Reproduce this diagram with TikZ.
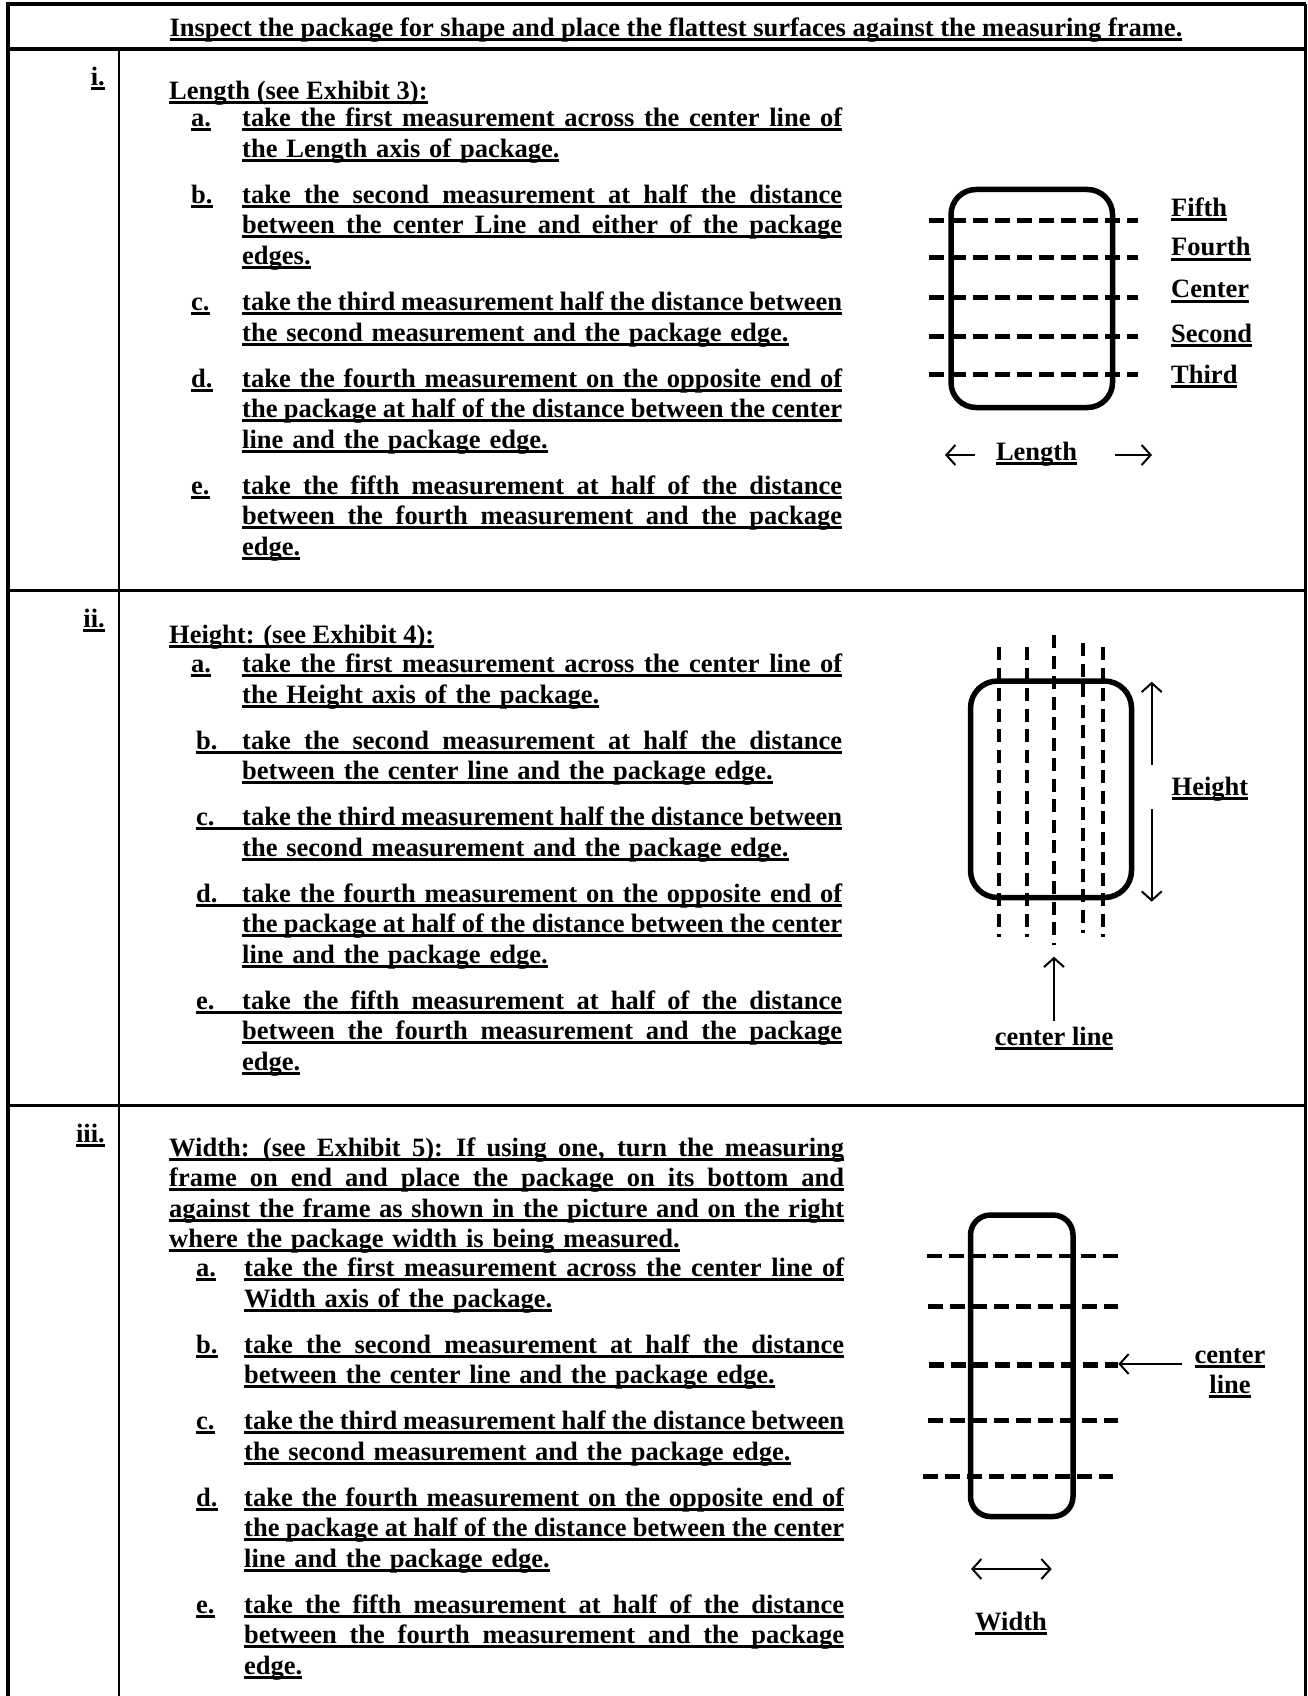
\documentclass[tikz,border=0pt]{standalone}
\usepackage{fontspec}
\setmainfont{Liberation Serif}
\usetikzlibrary{arrows.meta}
% underlined box and one justified underlined line
\newcommand{\ulbox}[1]{\leavevmode\setbox0=\hbox{#1}\rlap{\rule[-4.5pt]{\wd0}{3pt}}\box0}
\newcommand{\fullline}[2][600pt]{\ulbox{\spaceskip=\fontdimen2\font plus 1fil minus 0.5\fontdimen2\font\hbox to #1{#2}}}
\begin{document}
\begin{tikzpicture}[x=1pt,y=-1pt,
    every node/.style={inner sep=0pt,font=\fontsize{26.5pt}{30.5pt}\selectfont\bfseries},
    txt/.style={anchor=base west,text width=680pt,align=left},
    lbl/.style={anchor=base west},
    num/.style={anchor=base east},
    pkg/.style={line width=5.5pt,rounded corners=25pt},
    cut/.style={line width=5pt,dash pattern=on 15pt off 7pt},
    vcut/.style={line width=4.7pt,dash pattern=on 13pt off 7.5pt},
    arr/.style={line width=2pt,-{Straight Barb[length=9pt,width=20pt]}}]
\useasboundingbox (0,0) rectangle (1307,1696);
% table
\draw[line width=4pt] (8,1696) -- (8,4) -- (1305.5,4);
\draw[line width=3pt] (1305.5,4) -- (1305.5,1696);
\draw[line width=4pt] (8,49.5) -- (1305.5,49.5);
\draw[line width=3.5pt] (8,590.5) -- (1305.5,590.5);
\draw[line width=3.5pt] (8,1105.5) -- (1305.5,1105.5);
\draw[line width=2.5pt] (119,49.5) -- (119,1696);
\node[anchor=base] (title) at (676,36.7) {\ulbox{Inspect the package for shape and place the flattest surfaces against the measuring frame.}};

% i. length
\node[num] (numi) at (105,86) {\ulbox{i.}};
\node[lbl] (headi) at (169,99.5) {\ulbox{Length (see Exhibit 3):}};
\node[lbl] (ia) at (191,127) {\ulbox{a.}};
\node[txt] (ita) at (242,127) {\fullline{take the first measurement across the center line of}\\\ulbox{the Length axis of package.}};
\node[lbl] (ib) at (191,203.5) {\ulbox{b.}};
\node[txt] (itb) at (242,203.5) {\fullline{take the second measurement at half the distance}\\\fullline{between the center Line and either of the package}\\\ulbox{edges.}};
\node[lbl] (ic) at (191,310.5) {\ulbox{c.}};
\node[txt] (itc) at (242,310.5) {\fullline{take the third measurement half the distance between}\\\ulbox{the second measurement and the package edge.}};
\node[lbl] (id) at (191,387) {\ulbox{d.}};
\node[txt] (itd) at (242,387) {\fullline{take the fourth measurement on the opposite end of}\\\fullline{the package at half of the distance between the center}\\\ulbox{line and the package edge.}};
\node[lbl] (ie) at (191,494) {\ulbox{e.}};
\node[txt] (ite) at (242,494) {\fullline{take the fifth measurement at half of the distance}\\\fullline{between the fourth measurement and the package}\\\ulbox{edge.}};

\draw[pkg] (951,189.5) rectangle (1112.5,407.5);
\foreach \y in {221,257.7,297.3,336.7,374}
    \draw[cut] (929,\y) -- (1138,\y);
\foreach \t/\y in {Fifth/216.7,Fourth/256,Center/298,Second/342,Third/383}
    \node[lbl] (\t) at (1171,\y) {\ulbox{\t}};
\node[anchor=base] (len) at (1036.5,460) {\ulbox{Length}};
\coordinate (lenl) at (975,455); \coordinate (lenlt) at (945,455);
\coordinate (lenr) at (1115,455); \coordinate (lenrt) at (1152,455);
\draw[arr] (lenl) -- (lenlt);
\draw[arr] (lenr) -- (lenrt);

% ii. height
\node[num] (numii) at (105,627) {\ulbox{ii.}};
\node[lbl] (headii) at (169,643.5) {\ulbox{Height: (see Exhibit 4):}};
\node[lbl] (iia) at (191,672.5) {\ulbox{a.}};
\node[txt] (iita) at (242,672.5) {\fullline{take the first measurement across the center line of}\\\ulbox{the Height axis of the package.}};
\node[lbl] (iib) at (196,749) {\ulbox{\makebox[46pt][l]{b.}}};
\node[txt] (iitb) at (242,749) {\fullline{take the second measurement at half the distance}\\\ulbox{between the center line and the package edge.}};
\node[lbl] (iic) at (196,825.5) {\ulbox{\makebox[46pt][l]{c.}}};
\node[txt] (iitc) at (242,825.5) {\fullline{take the third measurement half the distance between}\\\ulbox{the second measurement and the package edge.}};
\node[lbl] (iid) at (196,902) {\ulbox{\makebox[46pt][l]{d.}}};
\node[txt] (iitd) at (242,902) {\fullline{take the fourth measurement on the opposite end of}\\\fullline{the package at half of the distance between the center}\\\ulbox{line and the package edge.}};
\node[lbl] (iie) at (196,1009) {\ulbox{\makebox[46pt][l]{e.}}};
\node[txt] (iite) at (242,1009) {\fullline{take the fifth measurement at half of the distance}\\\fullline{between the fourth measurement and the package}\\\ulbox{edge.}};

\draw[pkg,rounded corners=27pt] (970.5,681) rectangle (1131.5,897.5);
\foreach \x/\a/\b in {999/647/937,1027/647/937,1054/635/945,1083/643/933,1103/647/937}
    \draw[vcut] (\x,\a) -- (\x,\b);
\coordinate (hup) at (1151.7,765); \coordinate (huptip) at (1151.7,681.7);
\coordinate (hdn) at (1151.7,809); \coordinate (hdntip) at (1151.7,901.7);
\draw[arr] (hup) -- (huptip);
\draw[arr] (hdn) -- (hdntip);
\node[anchor=base] (height) at (1210,795) {\ulbox{Height}};
\node[anchor=base] (cline) at (1054,1045) {\ulbox{center line}};
\coordinate (cltip) at (1054,956.7);
\draw[arr] ([yshift=5pt]cline.north) -- (cltip);

% iii. width
\node[num] (numiii) at (105,1142) {\ulbox{iii.}};
\node[txt] (headiii) at (169,1156) {\fullline[675pt]{Width: (see Exhibit 5): If using one, turn the measuring}\\\fullline[675pt]{frame on end and place the package on its bottom and}\\\fullline[675pt]{against the frame as shown in the picture and on the right}\\\ulbox{where the package width is being measured.}};
\node[lbl] (iiia) at (196,1276.5) {\ulbox{a.}};
\node[txt] (iiita) at (244,1276.5) {\fullline{take the first measurement across the center line of}\\\ulbox{Width axis of the package.}};
\node[lbl] (iiib) at (196,1353) {\ulbox{b.}};
\node[txt] (iiitb) at (244,1353) {\fullline{take the second measurement at half the distance}\\\ulbox{between the center line and the package edge.}};
\node[lbl] (iiic) at (196,1429.5) {\ulbox{c.}};
\node[txt] (iiitc) at (244,1429.5) {\fullline{take the third measurement half the distance between}\\\ulbox{the second measurement and the package edge.}};
\node[lbl] (iiid) at (196,1506) {\ulbox{d.}};
\node[txt] (iiitd) at (244,1506) {\fullline{take the fourth measurement on the opposite end of}\\\fullline{the package at half of the distance between the center}\\\ulbox{line and the package edge.}};
\node[lbl] (iiie) at (196,1613) {\ulbox{e.}};
\node[txt] (iiite) at (244,1613) {\fullline{take the fifth measurement at half of the distance}\\\fullline{between the fourth measurement and the package}\\\ulbox{edge.}};

\draw[pkg,rounded corners=20pt] (970.5,1215) rectangle (1073,1516.5);
\foreach \y/\a/\b in {1256/927/1118,1306.7/928/1118,1420.7/928/1118,1476.7/923/1113}
    \draw[cut,line width=4.7pt] (\a,\y) -- (\b,\y);
\draw[cut,line width=6.5pt] (929,1365) -- (1118,1365);
\node[anchor=base] (wcen) at (1230,1363) {\ulbox{center}};
\node[anchor=base] (wline) at (1230,1393) {\ulbox{line}};
\coordinate (wcl) at (1181.7,1364); \coordinate (wcltip) at (1118.3,1364);
\draw[arr] (wcl) -- (wcltip);
\coordinate (wl) at (971,1569); \coordinate (wr) at (1051.7,1569);
\draw[arr,{Straight Barb[length=9pt,width=20pt]}-{Straight Barb[length=9pt,width=20pt]}] (wl) -- (wr);
\node[anchor=base] (wid) at (1011,1630) {\ulbox{Width}};
\end{tikzpicture}
\end{document}
